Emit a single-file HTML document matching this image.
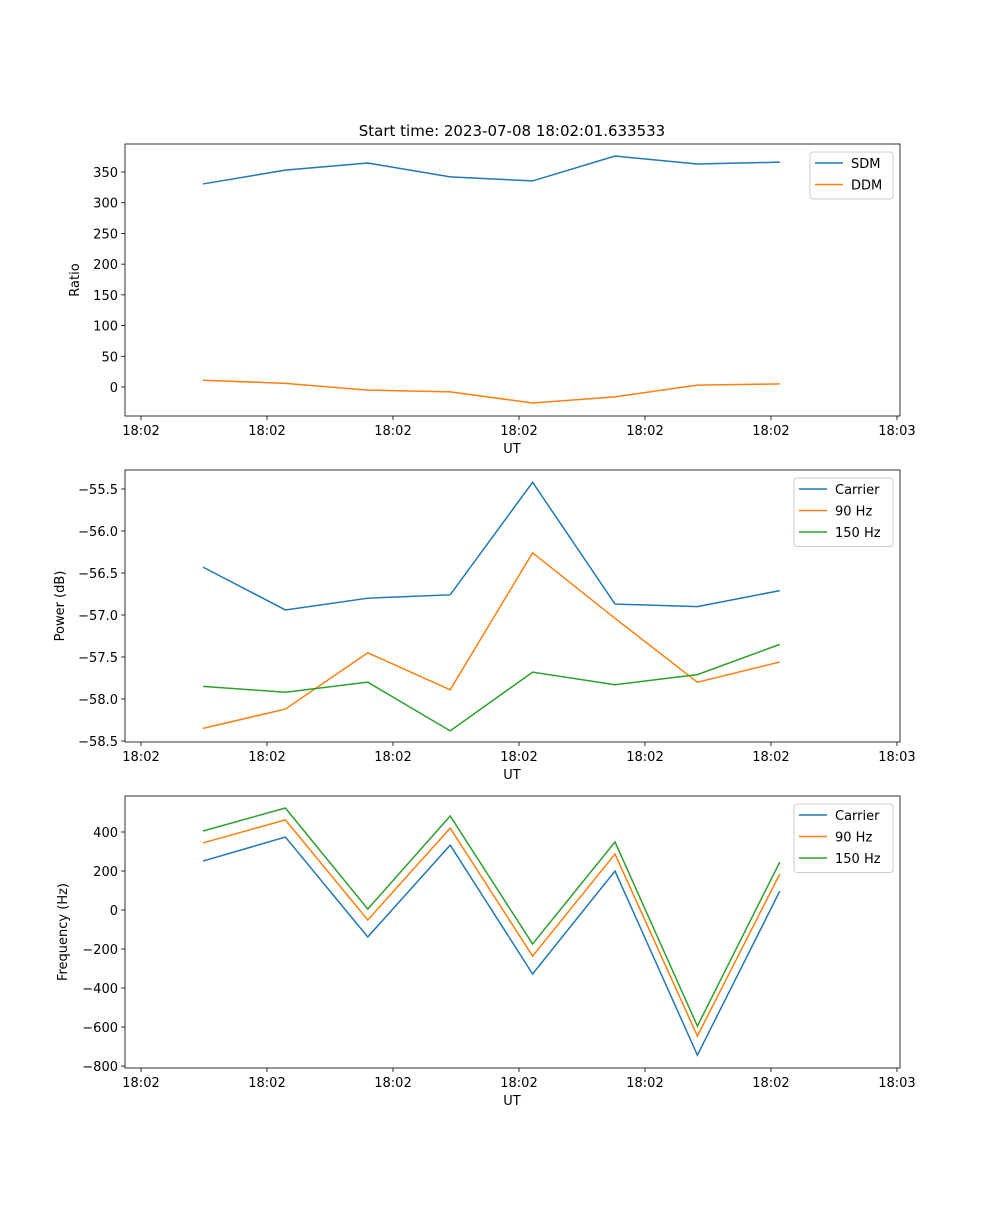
<!DOCTYPE html>
<html><head><meta charset="utf-8"><style>
body{margin:0;background:#fff}
svg text{font-family:"DejaVu Sans","Liberation Sans",sans-serif;font-size:13px;fill:#000}
</style></head><body>
<svg id="fig" width="1000" height="1200" xmlns="http://www.w3.org/2000/svg">
<text x="512" y="136" text-anchor="middle" font-size="15" style="font-size:15px">Start time: 2023-07-08 18:02:01.633533</text>
</svg>
<script>
const times=[4.92,11.46,18.0,24.54,31.08,37.62,44.16,50.7];
const xTicks=[0,10,20,30,40,50,60];
const xTickLabels=["18:02","18:02","18:02","18:02","18:02","18:02","18:03"];
const sdm=[330.6,353,364.6,342,335.5,376,363,366];
const ddm=[11,6,-5,-8,-26,-16,3,5];
const pCarrier=[-56.43,-56.94,-56.80,-56.76,-55.42,-56.87,-56.90,-56.71];
const p90=[-58.35,-58.12,-57.45,-57.89,-56.26,-57.04,-57.80,-57.56];
const p150=[-57.85,-57.92,-57.80,-58.38,-57.68,-57.83,-57.71,-57.35];
const fCarrier=[251,374,-138,333,-328,200,-744,97];
const f90=[344,462,-51,420,-236,287,-646,185];
const f150=[405,523,5,482,-174,349,-595,246];
const y1Ticks=[0,50,100,150,200,250,300,350];
const y2Ticks=[-58.5,-58,-57.5,-57,-56.5,-56,-55.5];
const y2Labels=["\u221258.5","\u221258.0","\u221257.5","\u221257.0","\u221256.5","\u221256.0","\u221255.5"];
const y3Ticks=[-800,-600,-400,-200,0,200,400];
const y3Labels=["\u2212800","\u2212600","\u2212400","\u2212200","0","200","400"];

const NS="http://www.w3.org/2000/svg";
const svg=document.getElementById('fig');
function el(tag,attrs,parent){const e=document.createElementNS(NS,tag);for(const k in attrs)e.setAttribute(k,attrs[k]);(parent||svg).appendChild(e);return e;}
const L=125,R=900,xmin=-1.27,xmax=60.24;
const xs=v=>L+(v-xmin)/(xmax-xmin)*(R-L);
const COLORS=["#1f77b4","#ff7f0e","#2ca02c"];

function panel(id,top,bot,ymin,ymax,yt,ytl,ylabel,series,names,legendX,legendW){
  const g=el('g',{});
  
  
  const ys=v=>bot-(v-ymin)/(ymax-ymin)*(bot-top);
  series.forEach((s,i)=>{
    const p=el('polyline',{points:s.map((v,j)=>xs(times[j])+','+ys(v)).join(' '),fill:'none',stroke:COLORS[i],'stroke-width':1.5},g);
    
    
  });
  const fr=el('rect',{x:L,y:top,width:R-L,height:bot-top,fill:'none',stroke:'#000','stroke-width':0.8},g);
  
  
  xTicks.forEach((t,i)=>{
    const x=xs(t);
    el('line',{x1:x,x2:x,y1:bot,y2:bot+4,stroke:'#000','stroke-width':0.8},g);
    const tx=el('text',{x:x,y:bot+19,'text-anchor':'middle'},g);tx.textContent=xTickLabels[i];
    
    
  });
  yt.forEach((t,i)=>{
    const y=ys(t);
    el('line',{x1:L-4,x2:L,y1:y,y2:y,stroke:'#000','stroke-width':0.8},g);
    const tx=el('text',{x:L-7,y:y+5,'text-anchor':'end'},g);tx.textContent=ytl?ytl[i]:String(t);
    
    
  });
  const xl=el('text',{x:512,y:bot+37,'text-anchor':'middle'},g);xl.textContent='UT';
  
  
  const lx=ylabel.x, ly=(top+bot)/2;
  const yl=el('text',{x:lx,y:ly,'text-anchor':'middle',transform:'rotate(-90 '+lx+' '+ly+')'},g);yl.textContent=ylabel.t;
  
  
  const lg=el('g',{},g);
  
  
  el('rect',{x:legendX,y:top+8,width:legendW,height:names.length*21.5+4,fill:'#fff',stroke:'#ccc',rx:3},lg);
  names.forEach((n,i)=>{
    const y=top+19+i*21.5;
    el('line',{x1:legendX+5,x2:legendX+33,y1:y,y2:y,stroke:COLORS[i],'stroke-width':1.5},lg);
    const t=el('text',{x:legendX+41,y:y+5},lg);t.textContent=n;
    
    
  });
}
panel('ratio',144,416,-47.2,395.6,y1Ticks,null,{x:79,t:'Ratio'},[sdm,ddm],['SDM','DDM'],810,83);
panel('power',470,742,-58.512,-55.274,y2Ticks,y2Labels,{x:64,t:'Power (dB)'},[pCarrier,p90,p150],['Carrier','90 Hz','150 Hz'],794,99);
panel('freq',796,1068,-810,584.6,y3Ticks,y3Labels,{x:67,t:'Frequency (Hz)'},[fCarrier,f90,f150],['Carrier','90 Hz','150 Hz'],794,99);
</script>
</body></html>
